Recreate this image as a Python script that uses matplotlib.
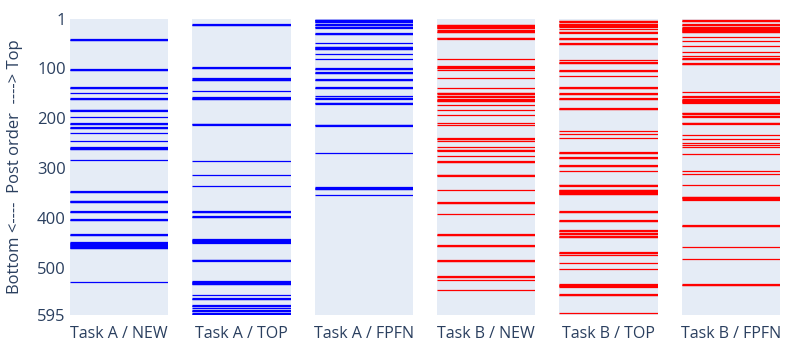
import matplotlib
matplotlib.use("Agg")
import matplotlib.pyplot as plt

plt.rcParams['font.family'] = ['Open Sans', 'DejaVu Sans']

n_posts = 595
panels = ['Task A / NEW', 'Task A / TOP', 'Task A / FPFN',
          'Task B / NEW', 'Task B / TOP', 'Task B / FPFN']
panel_colors = ['#0000ff', '#0000ff', '#0000ff', '#ff0000', '#ff0000', '#ff0000']
yticks = [1, 100, 200, 300, 400, 500, 595]


def run(a, b):
    return list(range(a, b + 1))


# post positions flagged in each panel
task_a_new = (run(42, 44) + run(102, 104) + run(138, 140) + [150] + run(160, 162)
              + run(183, 185) + [198] + run(210, 212) + run(218, 220) + [230, 246]
              + run(258, 262) + [283] + run(347, 349) + run(366, 369) + run(387, 389)
              + run(403, 405) + run(433, 435) + run(449, 461) + [529])
task_a_top = (run(12, 14) + run(98, 100) + [119] + run(122, 124) + [146] + run(158, 162)
              + run(211, 213) + [285, 315, 337] + run(387, 389) + run(397, 399)
              + run(443, 450) + run(484, 486) + run(527, 533) + [554] + run(561, 563)
              + run(575, 577) + [581] + run(585, 587) + run(591, 593))
task_a_fpfn = (run(2, 8) + run(12, 14) + run(17, 19) + run(30, 32) + [50] + run(57, 62)
               + [72, 82] + run(100, 102) + run(108, 110) + run(122, 124) + run(138, 140)
               + [155] + run(159, 161) + run(169, 171) + run(213, 215) + [269]
               + run(339, 343) + [355])
task_b_new = (run(13, 20) + [24] + run(26, 28) + run(39, 41) + [82, 95] + run(98, 100)
              + [104, 120, 140] + run(149, 151) + run(155, 157) + run(162, 166)
              + [174, 184, 194, 210, 214] + run(240, 242) + [246, 258] + run(263, 265)
              + [275] + run(286, 288) + run(314, 316) + [345] + run(369, 371) + [392]
              + run(433, 435) + run(455, 457) + run(485, 487) + run(517, 519) + [525, 545])
task_b_top = (run(5, 7) + run(11, 17) + [22] + run(27, 29) + run(40, 42) + run(50, 52)
              + [84] + run(88, 90) + run(104, 106) + [116] + run(138, 140) + run(150, 152)
              + run(160, 162) + run(180, 182) + [226, 232, 240] + run(268, 270)
              + run(278, 280) + run(294, 296) + [307] + run(334, 336) + run(344, 353)
              + run(387, 389) + run(405, 407) + run(425, 427) + run(431, 433)
              + run(437, 439) + run(469, 471) + [475, 491, 503] + run(533, 538)
              + run(553, 555) + [590])
task_b_fpfn = (run(4, 6) + run(12, 14) + run(18, 28) + [38, 46, 56, 68, 76] + run(80, 82)
               + run(90, 92) + [148] + run(156, 158) + run(162, 169) + run(189, 191)
               + run(195, 197) + run(209, 211) + [234, 242, 250, 254, 258, 272, 307, 313, 335]
               + run(358, 362) + [365] + run(415, 417) + [459, 483] + run(533, 535))

panel_posts = [task_a_new, task_a_top, task_a_fpfn, task_b_new, task_b_top, task_b_fpfn]

fig, axes = plt.subplots(1, 6, figsize=(8, 3.5), dpi=100, sharey=True)
fig.subplots_adjust(left=0.0875, right=0.975, top=0.9457, bottom=0.1, wspace=0.245)

for ax, name, posts, col in zip(axes, panels, panel_posts, panel_colors):
    ax.set_facecolor('#e5ecf6')
    ax.hlines(posts, 0, 1, colors=col, linewidth=0.9)
    ax.set_xlim(0, 1)
    ax.set_ylim(n_posts, 1)
    ax.set_xticks([])
    ax.set_xlabel(name, fontsize=11.5, color='#2a3f5f', labelpad=8)
    for s in ax.spines.values():
        s.set_visible(False)
    ax.tick_params(axis='y', length=0, pad=3, labelsize=12, labelcolor='#2a3f5f')

axes[0].set_yticks(yticks)
axes[0].set_ylabel('Bottom <----  Post order  ----> Top', fontsize=12, color='#2a3f5f', labelpad=10)

plt.savefig('out.png')
